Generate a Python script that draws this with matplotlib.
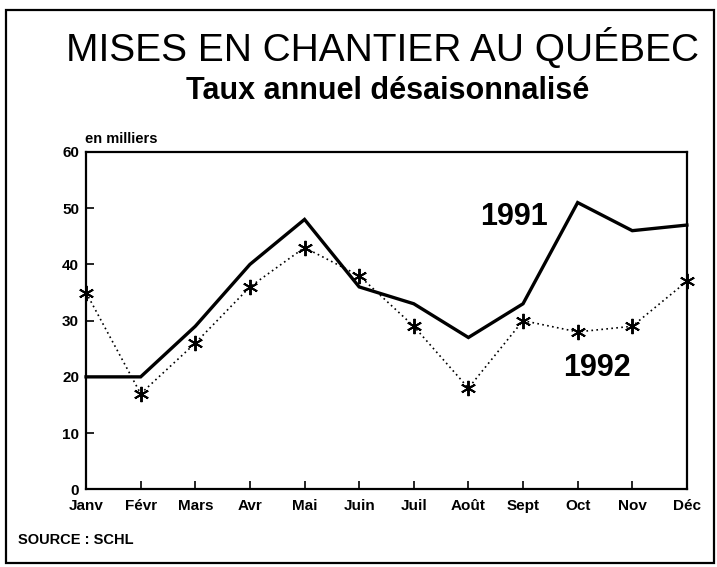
import matplotlib.pyplot as plt
from matplotlib.patches import Rectangle

# Monthly housing starts, seasonally adjusted annual rate (thousands)
months = ['Janv', 'Févr', 'Mars', 'Avr', 'Mai', 'Juin',
          'Juil', 'Août', 'Sept', 'Oct', 'Nov', 'Déc']
starts_1991 = [20, 20, 29, 40, 48, 36, 33, 27, 33, 51, 46, 47]
starts_1992 = [35, 17, 26, 36, 43, 38, 29, 18, 30, 28, 29, 37]
y_ticks = [0, 10, 20, 30, 40, 50, 60]

plt.rcParams['font.family'] = ['Liberation Sans', 'DejaVu Sans']

fig = plt.figure(figsize=(7.17, 5.67), dpi=100)
ax = fig.add_axes([0.120, 0.137, 0.838, 0.595])

x = range(len(months))

# 1991: thick solid line
ax.plot(x, starts_1991, color='black', linewidth=2.4, solid_joinstyle='miter',
        clip_on=False)

# 1992: dotted line with asterisk markers
ax.plot(x, starts_1992, color='black', linewidth=1.2, linestyle=(0, (1, 2)),
        marker=(6, 2, 0), markersize=11, markeredgewidth=1.4, clip_on=False)

ax.set_xlim(0, len(months) - 1)
ax.set_ylim(0, 60)
ax.set_xticks(list(x))
ax.set_xticklabels(months)
ax.set_yticks(y_ticks)
ax.tick_params(axis='both', direction='in', length=6, width=1.2,
               labelsize=11)
ax.tick_params(axis='x', pad=7)
ax.tick_params(axis='y', pad=5)
for lab in ax.get_xticklabels() + ax.get_yticklabels():
    lab.set_fontweight('bold')
for s in ax.spines.values():
    s.set_linewidth(1.6)

# Series labels
ax.text(7.84, 48.4, '1991', fontsize=22, fontweight='bold',
        ha='center', va='center')
ax.text(9.36, 21.6, '1992', fontsize=22, fontweight='bold',
        ha='center', va='center')

# Titles and notes
fig.text(0.533, 0.915, 'MISES EN CHANTIER AU QUÉBEC', fontsize=28,
         ha='center', va='center')
fig.text(0.540, 0.84, 'Taux annuel désaisonnalisé', fontsize=22,
         fontweight='bold', ha='center', va='center')
fig.text(0.118, 0.755, 'en milliers', fontsize=10.5, fontweight='bold',
         ha='left', va='center')
fig.text(0.025, 0.048, 'SOURCE : SCHL', fontsize=10.5, fontweight='bold',
         ha='left', va='center')

# Outer frame round the whole chart
fig.patches.append(Rectangle((0.008, 0.007), 0.988, 0.975,
                             transform=fig.transFigure, fill=False,
                             edgecolor='black', linewidth=1.6))

fig.savefig('out.png', dpi=100)
